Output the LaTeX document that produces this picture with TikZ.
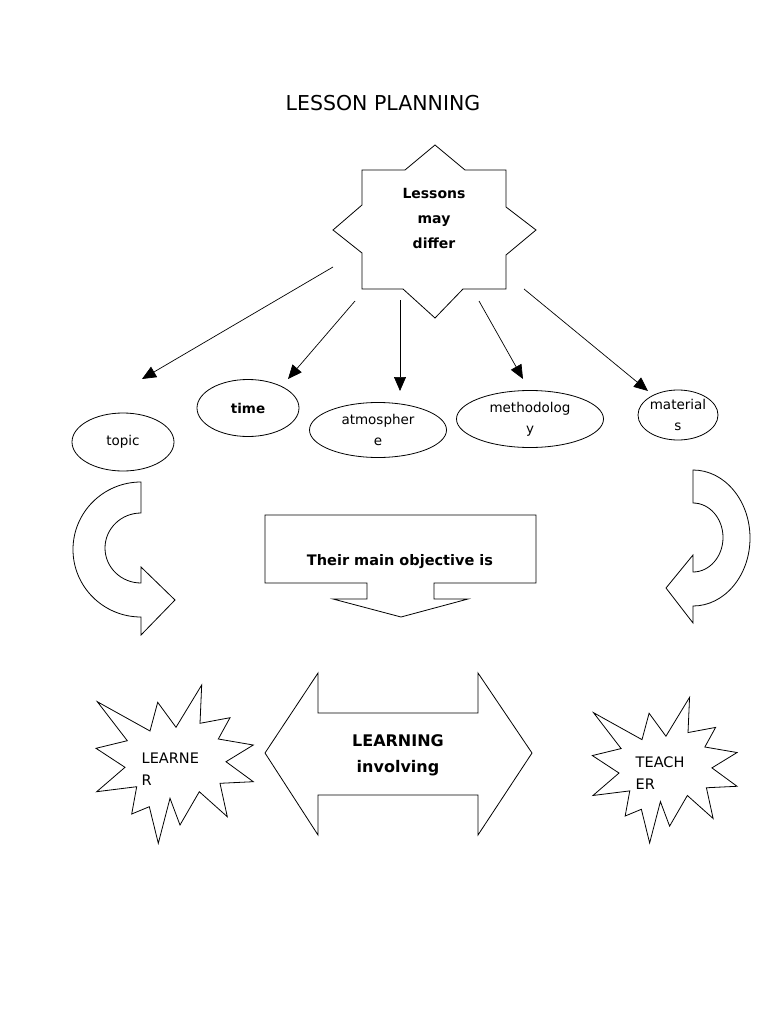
\documentclass[tikz,border=0pt]{standalone}
\usepackage{fontspec}
\setmainfont{DejaVu Sans}
\usetikzlibrary{arrows.meta,shapes.geometric}
\begin{document}
\begin{tikzpicture}[x=1pt,y=-1pt,
  line width=0.8pt, line join=miter,
  arr/.style={-{Triangle[length=14pt,width=12pt]}, line width=0.7pt},
  oval/.style={draw, ellipse, inner sep=0pt, align=center, font=\fontsize{13.5}{21}\selectfont},
  boldtxt/.style={align=center, font=\fontsize{14.5}{25}\selectfont\bfseries},
  lighttxt/.style={align=left, anchor=west, font=\fontsize{14.5}{22}\selectfont},
  burst/.pic={\draw (-77.7,-62.3) -- (-25,-33) -- (-17.3,-61.7) -- (1,-36.7) -- (26.7,-79) -- (25,-40.7) -- (55,-46.3) -- (43.3,-25) -- (78.3,-19) -- (51,-2.3) -- (78.3,17.7) -- (45,19.3) -- (52.3,52.7) -- (24.3,27.7) -- (5,61) -- (-5,34.3) -- (-16.7,79.3) -- (-25.7,42.7) -- (-43.3,50) -- (-38.3,22.7) -- (-78.3,27.7) -- (-50,3.3) -- (-79,-15.7) -- (-47.7,-23.3) -- cycle;}
]
\useasboundingbox (0,0) rectangle (768,1024);

% title
\node[font=\fontsize{20.5}{22}\selectfont] (title) at (383,103) {LESSON PLANNING};

% star
\draw (362,170) -- (405,170) -- (435,145) -- (465,170) -- (506,170) -- (506,207) -- (536,230) -- (506,255) -- (506,289) -- (463,289) -- (435,318) -- (403,289) -- (362,289) -- (362,253) -- (333,230) -- (362,205) -- cycle;
\node[boldtxt, font=\fontsize{14}{25}\selectfont\bfseries] (lessons) at (434,218) {Lessons\\may\\differ};

% ellipses
\node[oval, minimum width=102pt, minimum height=58pt] (topic) at (123,442) {topic};
\node[oval, minimum width=102pt, minimum height=57pt, font=\fontsize{13.5}{21}\selectfont\bfseries] (time) at (248,408) {time};
\node[oval, minimum width=137pt, minimum height=55pt] (atmos) at (378,430) {atmospher\\e};
\node[oval, minimum width=147pt, minimum height=57pt] (method) at (530,419) {methodolog\\y};
\node[oval, minimum width=80pt, minimum height=50pt] (mater) at (678,415) {material\\s};

% arrow ends
\coordinate (s1) at (333,267); \coordinate (e1) at (142,379);
\coordinate (s2) at (355,301); \coordinate (e2) at (288,379);
\coordinate (s3) at (400,300); \coordinate (e3) at (400,391);
\coordinate (s4) at (479,301); \coordinate (e4) at (523,379);
\coordinate (s5) at (524,289); \coordinate (e5) at (648,391);
\draw[arr] (s1) -- (e1);
\draw[arr] (s2) -- (e2);
\draw[arr] (s3) -- (e3);
\draw[arr] (s4) -- (e4);
\draw[arr] (s5) -- (e5);

% left curved arrow
\draw (141,482) arc[start angle=270, end angle=90, x radius=68, y radius=67.5]
  -- (141,635) -- (175,600) -- (141,567) -- (141,583)
  arc[start angle=90, end angle=270, x radius=36, y radius=35] -- cycle;

% right curved arrow
\draw (693,470) arc[start angle=270, end angle=450, x radius=57, y radius=68]
  -- (693,623) -- (666,588) -- (693,555) -- (693,572)
  arc[start angle=90, end angle=-90, x radius=30, y radius=34.5] -- cycle;

% objective box arrow
\draw (265,515) -- (536,515) -- (536,583) -- (434,583) -- (434,599) -- (468,599) -- (401,617) -- (333,599) -- (367,599) -- (367,583) -- (265,583) -- cycle;
\node[boldtxt] (objective) at (400,562) {Their main objective is};

% double arrow
\draw (265,753) -- (318,673) -- (318,713) -- (478,713) -- (478,673) -- (532,753) -- (478,835) -- (478,795) -- (318,795) -- (318,835) -- cycle;
\node[boldtxt, font=\fontsize{16}{26}\selectfont\bfseries] (learning) at (398,755) {LEARNING\\involving};

% bursts
\pic at (175,764) {burst};
\pic[scale=0.92] at (665,770) {burst};
\node[lighttxt] (learner) at (138,769) {LEARNE\\R};
\node[lighttxt] (teacher) at (632,773) {TEACH\\ER};
\end{tikzpicture}
\end{document}
